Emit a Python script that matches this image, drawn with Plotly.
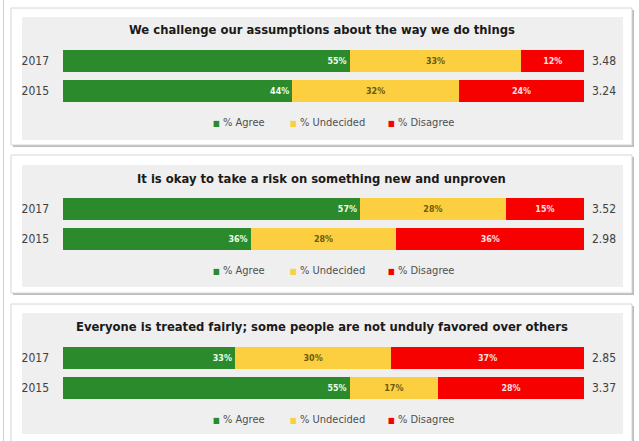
import plotly.graph_objects as go

# ---- data ----
titles = [
    "We challenge our assumptions about the way we do things",
    "It is okay to take a risk on something new and unproven",
    "Everyone is treated fairly; some people are not unduly favored over others",
]
years = ["2017", "2015"]
series_names = ["% Agree", "% Undecided", "% Disagree"]
agree = [[55, 44], [57, 36], [33, 55]]
undecided = [[33, 32], [28, 28], [30, 17]]
disagree = [[12, 24], [15, 36], [37, 28]]
scores = [[3.48, 3.24], [3.52, 2.98], [2.85, 3.37]]

# ---- styles ----
W, H = 639, 441
colors = ["#2b8a2b", "#fbcf3f", "#f70000"]
text_colors = ["#eaffea", "#6b5a10", "#ffe0e0"]
anchors = ["end", "middle", "middle"]
narrow = "Liberation Sans Narrow, DejaVu Sans Condensed, Arial Narrow, sans-serif"
bold_font = "DejaVu Sans, Verdana, sans-serif"
cat_order = years[::-1]

def X(px):
    return px / W

def Y(py):
    return 1 - py / H

# panel geometry (pixels)
cards = [(8, 145), (155, 293), (304, 446)]
inner = [(17, 140), (165, 287), (313, 434)]
bar_dom = [(46, 106), (194, 254), (343, 403)]
title_y = [30, 179, 327]
legend_y = [123, 270, 419]
legend_x = [211, 288, 386]

fig = go.Figure()
shapes = []
annotations = []

# left page line
shapes.append(dict(type="line", xref="paper", yref="paper", x0=X(3.5), x1=X(3.5),
                   y0=Y(0), y1=Y(441), line=dict(color="#d0d0d0", width=1), layer="below"))

for p in range(3):
    ax = "" if p == 0 else str(p + 1)
    xa, ya = "x" + ax, "y" + ax
    data = [agree[p], undecided[p], disagree[p]]
    for s in range(3):
        fig.add_trace(go.Bar(
            x=data[s], y=years, orientation="h", name=series_names[s],
            marker=dict(color=colors[s], line=dict(width=0)),
            width=0.75,
            text=[f"{v}%" for v in data[s]],
            textposition="inside", insidetextanchor=anchors[s],
            textangle=0, constraintext="none",
            textfont=dict(family=bold_font, size=8, color=text_colors[s], weight="bold"),
            xaxis=xa, yaxis=ya, showlegend=False, hoverinfo="skip",
        ))
    # cards
    t, b = cards[p]
    shapes.append(dict(type="rect", xref="paper", yref="paper", x0=X(13), x1=X(634),
                       y0=Y(b + 2), y1=Y(t + 2), fillcolor="#bcbcbc", line=dict(width=0), layer="below"))
    shapes.append(dict(type="rect", xref="paper", yref="paper", x0=X(11), x1=X(632),
                       y0=Y(b), y1=Y(t), fillcolor="#ffffff", line=dict(color="#d6d6d6", width=1), layer="below"))
    it, ib = inner[p]
    shapes.append(dict(type="rect", xref="paper", yref="paper", x0=X(22), x1=X(623),
                       y0=Y(ib), y1=Y(it), fillcolor="#efefef", line=dict(width=0), layer="below"))
    # title
    annotations.append(dict(text=f"<b>{titles[p]}</b>", xref="paper", yref="paper",
                            x=X(322), y=Y(title_y[p]), showarrow=False, xanchor="center", yanchor="middle",
                            font=dict(family=bold_font, size=11.6, color="#1a1a1a")))
    # scores
    for i, yr in enumerate(years):
        annotations.append(dict(text=f"{scores[p][i]:.2f}", xref="paper", yref=ya,
                                x=X(590), y=cat_order.index(yr), showarrow=False,
                                xanchor="left", yanchor="middle",
                                font=dict(family=narrow, size=12, color="#404040")))
    # legend
    for s in range(3):
        annotations.append(dict(
            text=f"<span style='color:{colors[s]};font-size:8px'>■</span> {series_names[s]}",
            xref="paper", yref="paper", x=X(legend_x[s]), y=Y(legend_y[p]),
            showarrow=False, xanchor="left", yanchor="middle",
            font=dict(family=narrow, size=11, color="#505050")))
    d0, d1 = bar_dom[p]
    fig.update_layout(**{
        "xaxis" + ax: dict(domain=[X(63), X(584)], range=[0, 100], visible=False, fixedrange=True,
                           anchor=ya),
        "yaxis" + ax: dict(domain=[Y(d1), Y(d0)], type="category", categoryorder="array",
                           categoryarray=cat_order, range=[-0.5, 1.5], anchor=xa,
                           showgrid=False, zeroline=False, showline=False, ticks="",
                           ticklabelstandoff=13,
                           tickfont=dict(family=narrow, size=12, color="#404040")),
    })

fig.update_layout(
    width=W, height=H, margin=dict(l=0, r=0, t=0, b=0),
    barmode="stack", bargap=0.25,
    paper_bgcolor="#ffffff", plot_bgcolor="rgba(0,0,0,0)",
    shapes=shapes, annotations=annotations, showlegend=False,
)

fig.write_html("out.html", config={"displayModeBar": False},
               post_script="document.body.style.margin='0';document.body.style.overflow='hidden';")
